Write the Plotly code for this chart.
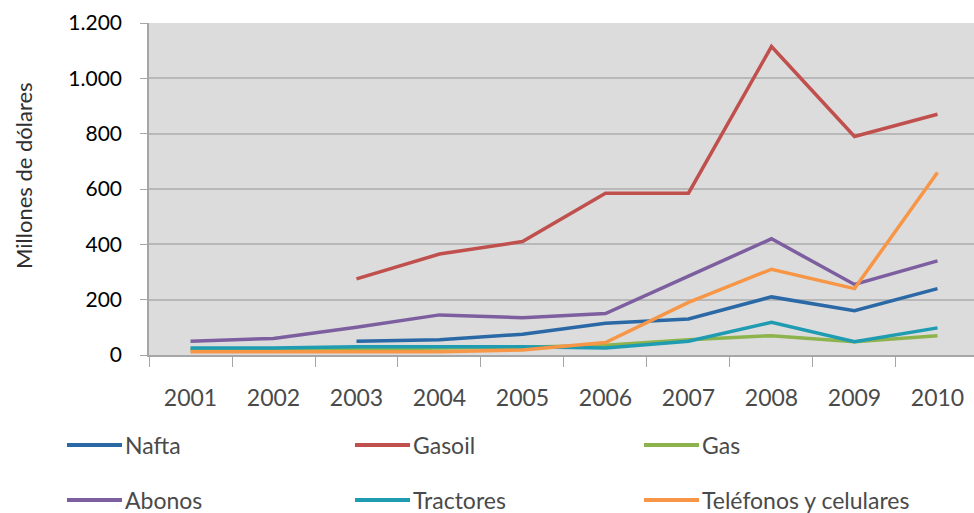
import plotly.graph_objects as go

years = ["2001", "2002", "2003", "2004", "2005", "2006", "2007", "2008", "2009", "2010"]

nafta = [None, None, 50, 55, 75, 115, 130, 210, 160, 240]
gasoil = [None, None, 275, 365, 410, 585, 585, 1115, 790, 870]
gas = [20, 20, 22, 25, 28, 35, 55, 70, 48, 70]
abonos = [50, 60, 100, 145, 135, 150, 285, 420, 255, 340]
tractores = [25, 25, 30, 30, 30, 25, 50, 118, 48, 98]
telefonos = [12, 12, 12, 12, 18, 45, 190, 310, 240, 660]

y_ticks = [0, 200, 400, 600, 800, 1000, 1200]
y_tick_text = ["0", "200", "400", "600", "800", "1.000", "1.200"]

names = ["Nafta", "Gasoil", "Gas", "Abonos", "Tractores", "Teléfonos y celulares"]
values = [nafta, gasoil, gas, abonos, tractores, telefonos]
colors = ["#2a69a6", "#c0504d", "#8db44c", "#7d5fa0", "#1f9bb2", "#f79646"]

W, H = 974, 513
L, R, T, B = 149, 0, 23, 158
PW, PH = W - L - R, H - T - B


def px_x(x):
    return (x - L) / PW


def px_y(y):
    return (H - B - y) / PH


fig = go.Figure()
for name, vals, color in zip(names, values, colors):
    fig.add_trace(go.Scatter(
        x=years, y=vals, name=name, mode="lines",
        line=dict(color=color, width=3.5),
        showlegend=False,
    ))

# Legend in two rows of three, drawn as line samples with labels
shapes, annotations = [], []
col_x = [67, 355, 644]
row_y = [445, 500]
for i, (name, color) in enumerate(zip(names, colors)):
    x0 = col_x[i % 3]
    y0 = row_y[i // 3]
    shapes.append(dict(
        type="line", xref="paper", yref="paper",
        x0=px_x(x0), x1=px_x(x0 + 55), y0=px_y(y0), y1=px_y(y0),
        line=dict(color=color, width=4),
    ))
    annotations.append(dict(
        text=name, xref="paper", yref="paper",
        x=px_x(x0 + 56), y=px_y(y0), xanchor="left", yanchor="middle",
        showarrow=False,
        font=dict(family="Lato, sans-serif", size=23, color="#4a4a4a"),
    ))

annotations.append(dict(
    text="Millones de dólares", textangle=-90,
    xref="paper", yref="paper", x=px_x(23), y=px_y(175),
    xanchor="center", yanchor="middle", showarrow=False,
    font=dict(family="Lato, sans-serif", size=22, color="#303030"),
))

fig.update_layout(
    width=W, height=H,
    margin=dict(l=L, r=R, t=T, b=B),
    paper_bgcolor="white",
    plot_bgcolor="#dcdcdc",
    font=dict(family="Lato, sans-serif", color="black"),
    showlegend=False,
    xaxis=dict(
        type="category", range=[-0.5, 9.44],
        showgrid=False, showline=True, linecolor="#a6a6a6", linewidth=1.5,
        ticks="outside", tickson="boundaries", ticklen=10, tickcolor="#a6a6a6",
        ticklabelstandoff=22,
        tickfont=dict(family="Lato, sans-serif", size=23, color="#4a4a4a"),
    ),
    yaxis=dict(
        range=[0, 1200], tickvals=y_ticks, ticktext=y_tick_text,
        showgrid=True, gridcolor="#b8b8b8", gridwidth=2,
        showline=True, linecolor="#a6a6a6", linewidth=1.5,
        ticks="outside", ticklen=7, tickcolor="#a6a6a6",
        ticklabelstandoff=14,
        tickfont=dict(family="Lato, sans-serif", size=21, color="black"),
        zeroline=False,
    ),
    shapes=shapes,
    annotations=annotations,
)

fig.write_html("out.html")
